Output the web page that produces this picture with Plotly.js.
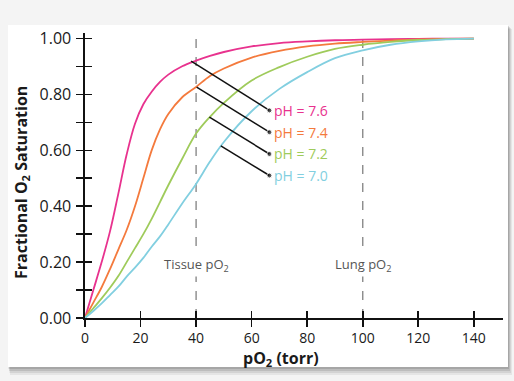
<!DOCTYPE html>
<html>
<head>
<meta charset="utf-8">
<script src="https://cdn.plot.ly/plotly-3.0.1.min.js"></script>
<style>html,body{margin:0;padding:0;background:#f4f4f4;}#chart{width:514px;height:381px;}</style>
</head>
<body>
<div id="chart"></div>
<script>
// ---- data ----
const pO2 = [0, 3, 6, 9, 12, 15, 18, 21, 24, 27, 30, 35, 40, 45, 50, 60, 70, 80, 90, 100, 110, 120, 130, 140];
const satPH76 = [0, 0.10, 0.20, 0.31, 0.445, 0.585, 0.695, 0.765, 0.81, 0.845, 0.871, 0.901, 0.921, 0.938, 0.952, 0.972, 0.984, 0.990, 0.994, 0.996, 0.998, 0.999, 1.0, 1.0];
const satPH74 = [0, 0.055, 0.11, 0.175, 0.245, 0.315, 0.40, 0.50, 0.60, 0.675, 0.73, 0.79, 0.827, 0.866, 0.893, 0.932, 0.956, 0.972, 0.982, 0.988, 0.993, 0.997, 0.999, 1.0];
const satPH72 = [0, 0.035, 0.07, 0.108, 0.15, 0.20, 0.25, 0.30, 0.355, 0.415, 0.475, 0.57, 0.66, 0.72, 0.77, 0.85, 0.898, 0.935, 0.963, 0.978, 0.988, 0.995, 0.998, 1.0];
const satPH70 = [0, 0.025, 0.052, 0.082, 0.112, 0.148, 0.18, 0.215, 0.255, 0.292, 0.335, 0.41, 0.48, 0.56, 0.63, 0.74, 0.82, 0.88, 0.93, 0.958, 0.978, 0.99, 0.997, 1.0];
const seriesNames = ["pH = 7.6", "pH = 7.4", "pH = 7.2", "pH = 7.0"];
const seriesColors = ["#e8328e", "#f47a3d", "#9fcb5b", "#82cfe0"];
const leaderStartX = [38.2, 40.2, 44.8, 48.9];
const leaderStartY = [0.919, 0.826, 0.719, 0.616];
const leaderEndX = [66.4, 66.4, 66.4, 66.4];
const leaderEndY = [0.743, 0.665, 0.587, 0.510];
const xTickVals = [0, 20, 40, 60, 80, 100, 120, 140];
const xTickText = ["0", "20", "40", "60", "80", "100", "120", "140"];
const yTickVals = [0, 0.1, 0.2, 0.3, 0.4, 0.5, 0.6, 0.7, 0.8, 0.9, 1.0];
const yTickText = ["0.00", "", "0.20", "", "0.40", "", "0.60", "", "0.80", "", "1.00"];
const refLinesX = [40, 100];
const refLinesText = ["Tissue pO<sub>2</sub>", "Lung pO<sub>2</sub>"];
const refTextY = 0.19;
const xTitle = "<b>pO<sub>2</sub> (torr)</b>";
const yTitle = "<b>Fractional O<sub>2</sub> Saturation</b>";

const FONT = "Open Sans, Noto Sans, sans-serif";
const satSeries = [satPH76, satPH74, satPH72, satPH70];

// ---- geometry helpers ----
const W = 514, H = 381, ML = 85, MR = 11, MT = 33, MB = 63;
const PW = W - ML - MR, PH = H - MT - MB;
const px2x = p => (p - ML) / PW;
const py2y = p => (H - MB - p) / PH;

const traces = [];
satSeries.forEach((s, i) => {
  traces.push({x: pO2, y: s, type: "scatter", mode: "lines", line: {color: seriesColors[i], width: 1.8, shape: "spline", smoothing: 1}, hoverinfo: "skip", showlegend: false});
});
for (let i = 0; i < leaderStartX.length; i++) {
  traces.push({x: [leaderStartX[i], leaderEndX[i]], y: [leaderStartY[i], leaderEndY[i]], type: "scatter", mode: "lines+markers",
    line: {color: "#111", width: 1.5}, marker: {size: [0, 5], color: "#111"}, hoverinfo: "skip", showlegend: false});
}
// dummy trace to create overlay axes for inside ticks
traces.push({x: [null], y: [null], xaxis: "x2", yaxis: "y2", type: "scatter", mode: "lines", hoverinfo: "skip", showlegend: false});

const shapes = [];
const panel = {x0: px2x(8), x1: px2x(508), y0: py2y(367), y1: py2y(25)};
[[4, 8, 0.06], [3, 6, 0.08], [2, 4, 0.1], [1, 2, 0.12]].forEach(([dx, dy, a]) => {
  shapes.push({type: "rect", xref: "paper", yref: "paper", x0: panel.x0 + dx / PW * 0.5, x1: panel.x1 + dx / PW, y0: panel.y0 - dy / PH, y1: panel.y1 - dy / PH * 0.5,
    fillcolor: "rgba(0,0,0," + a + ")", line: {width: 0}, layer: "below"});
});
shapes.push({type: "rect", xref: "paper", yref: "paper", x0: panel.x0, x1: panel.x1, y0: panel.y0, y1: panel.y1, fillcolor: "#ffffff", line: {width: 0}, layer: "below"});
refLinesX.forEach(v => {
  shapes.push({type: "line", xref: "x", yref: "paper", x0: v, x1: v, y0: 0, y1: 1, line: {color: "#8a8a8a", width: 1.4, dash: "dash"}, layer: "below"});
});

const annotations = [];
refLinesX.forEach((v, i) => {
  annotations.push({x: v, y: refTextY, xref: "x", yref: "y", text: refLinesText[i], showarrow: false, bgcolor: "#ffffff",
    font: {family: FONT, size: 13, color: "#555"}, borderpad: 1});
});
seriesNames.forEach((n, i) => {
  annotations.push({x: leaderEndX[i] + 1.0, y: leaderEndY[i], xref: "x", yref: "y", text: n, showarrow: false, xanchor: "left", yanchor: "middle",
    font: {family: FONT, size: 14, color: seriesColors[i]}});
});
annotations.push({x: px2x(281), y: py2y(346), xref: "paper", yref: "paper", text: xTitle, showarrow: false, xanchor: "center", yanchor: "top",
  font: {family: FONT, size: 16, color: "#1a1a1a"}, borderpad: 0});
annotations.push({x: px2x(21), y: py2y(183), xref: "paper", yref: "paper", text: yTitle, showarrow: false, xanchor: "center", yanchor: "middle", textangle: -90,
  font: {family: FONT, size: 16, color: "#1a1a1a"}});

const layout = {
  width: W, height: H,
  margin: {l: ML, r: MR, t: MT, b: MB},
  paper_bgcolor: "#f4f4f4",
  plot_bgcolor: "rgba(0,0,0,0)",
  font: {family: FONT, color: "#1a1a1a"},
  showlegend: false,
  xaxis: {range: [0, 150.5], showgrid: false, zeroline: false, showline: true, linecolor: "#111", linewidth: 1.6,
    ticks: "outside", ticklen: 7, tickwidth: 1.6, tickcolor: "#111", tickvals: xTickVals, ticktext: xTickText,
    tickfont: {size: 14, family: FONT, color: "#1a1a1a"}},
  yaxis: {range: [0, 1.02], showgrid: false, zeroline: false, showline: true, linecolor: "#111", linewidth: 1.6,
    ticks: "outside", ticklen: 7, tickwidth: 1.6, tickcolor: "#111", tickvals: yTickVals, ticktext: yTickText,
    tickfont: {size: 16, family: FONT, color: "#1a1a1a"}, ticklabelstandoff: 2},
  xaxis2: {overlaying: "x", anchor: "y2", side: "bottom", range: [0, 150.5], showgrid: false, zeroline: false, showline: false,
    ticks: "inside", ticklen: 7, tickwidth: 1.6, tickcolor: "#111", tickvals: xTickVals, showticklabels: false},
  yaxis2: {overlaying: "y", anchor: "x2", side: "left", range: [0, 1.02], showgrid: false, zeroline: false, showline: false,
    ticks: "inside", ticklen: 7, tickwidth: 1.6, tickcolor: "#111", tickvals: yTickVals, showticklabels: false},
  shapes: shapes,
  annotations: annotations
};

Plotly.newPlot("chart", traces, layout, {staticPlot: true, displayModeBar: false});
</script>
</body>
</html>
